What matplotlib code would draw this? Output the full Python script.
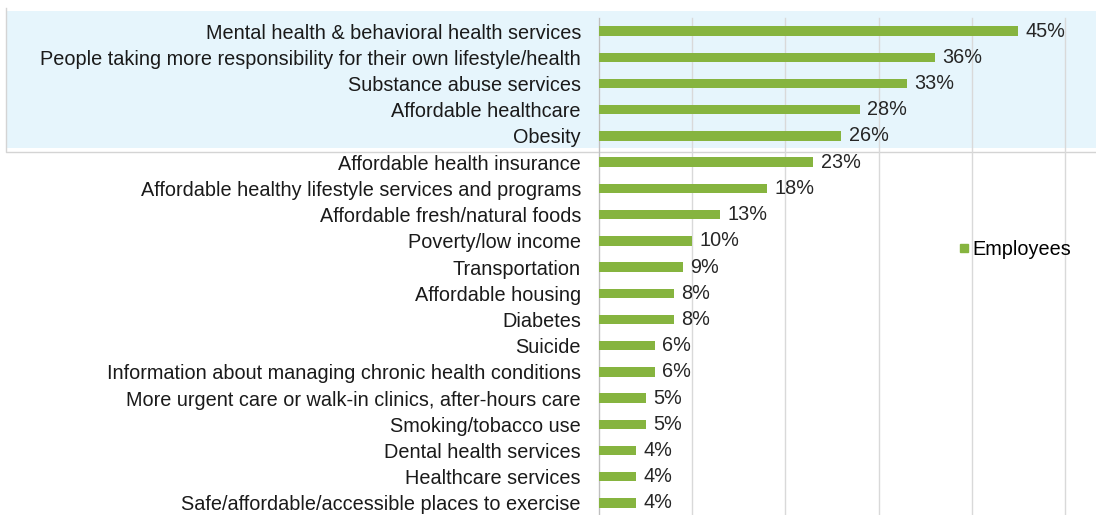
import matplotlib.pyplot as plt
from matplotlib.patches import Rectangle
from matplotlib.lines import Line2D

plt.rcParams['font.family'] = ['Liberation Sans', 'DejaVu Sans']

categories = [
    "Mental health & behavioral health services",
    "People taking more responsibility for their own lifestyle/health",
    "Substance abuse services",
    "Affordable healthcare",
    "Obesity",
    "Affordable health insurance",
    "Affordable healthy lifestyle services and programs",
    "Affordable fresh/natural foods",
    "Poverty/low income",
    "Transportation",
    "Affordable housing",
    "Diabetes",
    "Suicide",
    "Information about managing chronic health conditions",
    "More urgent care or walk-in clinics, after-hours care",
    "Smoking/tobacco use",
    "Dental health services",
    "Healthcare services",
    "Safe/affordable/accessible places to exercise",
]
values = [45, 36, 33, 28, 26, 23, 18, 13, 10, 9, 8, 8, 6, 6, 5, 5, 4, 4, 4]

green = "#86b43f"
fs = 14.3

fig = plt.figure(figsize=(10.96, 5.15), dpi=100)

# highlight band behind top five rows
fig.patches.append(Rectangle((7 / 1096, 1 - 148 / 515), 1 - 7 / 1096, 137 / 515,
                             transform=fig.transFigure, facecolor="#e6f5fc",
                             edgecolor="none", zorder=-2))
fig.lines.append(Line2D([6 / 1096, 6 / 1096, 1], [1 - 8 / 515, 1 - 152 / 515, 1 - 152 / 515],
                        transform=fig.transFigure, color="#d4d4d4", lw=1, zorder=-1))

ax = fig.add_axes([599 / 1096, -0.002, (1065 - 599) / 1096, 0.967])
ax.patch.set_alpha(0)

y = list(range(len(categories)))
ax.barh(y, values, height=0.36, color=green, label="Employees", zorder=3)
for yi, v in zip(y, values):
    ax.text(v + 0.8, yi, f"{v}%", va="center", ha="left", fontsize=fs,
            color="#262626", zorder=4)

ax.set_yticks(y)
ax.set_yticklabels(categories, fontsize=fs, color="#1a1a1a")
ax.tick_params(axis="y", length=0, pad=13)
ax.set_ylim(len(categories) - 0.5, -0.5)
ax.set_xlim(0, 50)
ax.set_xticks([0, 10, 20, 30, 40, 50])
ax.tick_params(axis="x", length=0, labelbottom=False)
ax.grid(axis="x", color="#d9d9d9", lw=1, zorder=0)
for gl in ax.get_xgridlines():
    gl.set_clip_on(False)
ax.set_axisbelow(True)
for s in ["top", "right", "bottom"]:
    ax.spines[s].set_visible(False)
ax.spines["left"].set_color("#bfbfbf")

handle = Line2D([], [], marker="s", color=green, lw=0, markersize=5.5)
ax.legend([handle], ["Employees"], loc="center left", bbox_to_anchor=(0.756, 0.535),
          frameon=False, fontsize=fs, handlelength=0.5, handletextpad=0.15,
          borderaxespad=0)

fig.savefig("out.png", dpi=100)
